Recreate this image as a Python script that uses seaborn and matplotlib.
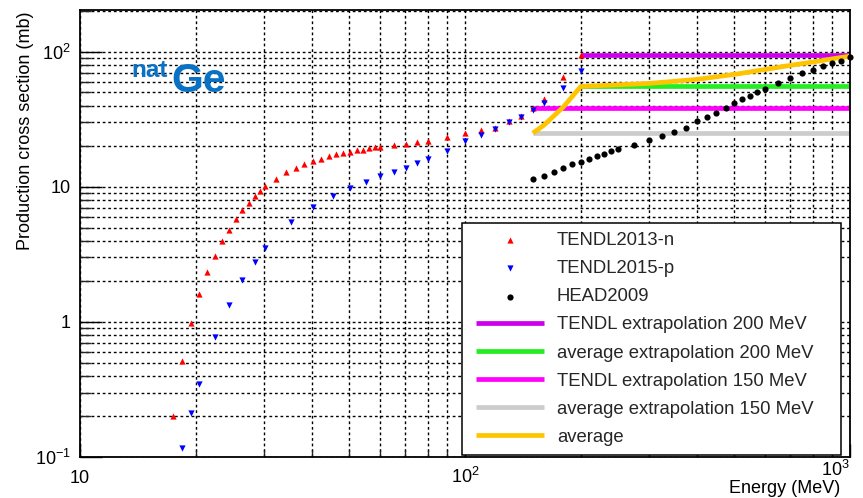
import numpy as np
import matplotlib
matplotlib.use("Agg")
import matplotlib.pyplot as plt
import matplotlib.ticker as mticker
import matplotlib.transforms as mtransforms
from matplotlib.lines import Line2D
from matplotlib.collections import PathCollection
from matplotlib.legend_handler import HandlerLine2D, HandlerPathCollection
import seaborn as sns

# ---- production cross sections (mb) vs energy (MeV) ----
tendl2013_n_E = [17.4, 18.4, 19.4, 20.4, 21.4, 22.4, 23.4, 24.4, 25.4, 26.4, 27.4, 28.4,
                 29.4, 30.3, 32.3, 34.3, 36.3, 38.2, 40.2, 42.3, 44.3, 46.3, 48.3, 50.2,
                 52.3, 54.2, 56.2, 58.3, 60.1, 65.3, 70.2, 75, 80, 90, 100, 110, 120,
                 130, 140, 150, 160, 180, 200]
tendl2013_n_xs = [0.20, 0.51, 0.98, 1.6, 2.33, 3.1, 3.98, 4.83, 5.77, 6.69, 7.61, 8.49,
                  9.29, 10.2, 11.5, 12.9, 13.9, 14.8, 15.6, 16.2, 16.8, 17.4, 17.8, 18.2,
                  18.6, 18.9, 19.25, 19.6, 19.8, 20.5, 20.8, 21.5, 21.9, 23.4, 25.1, 26.3,
                  27.5, 30.6, 33.6, 38.5, 44.4, 64.6, 94.5]

tendl2015_p_E = [18.4, 19.4, 20.4, 22.4, 24.4, 26.4, 28.4, 30.3, 35.3, 40.2, 45.3, 50.2,
                 55.3, 60.1, 65.3, 70.2, 75, 80, 90, 100, 110, 120, 130, 140, 150, 160,
                 180, 200]
tendl2015_p_xs = [0.117, 0.212, 0.35, 0.774, 1.33, 2.03, 2.77, 3.53, 5.45, 7.11, 8.63,
                  9.78, 10.96, 12.0, 12.9, 13.9, 15.0, 16.0, 18.5, 22.0, 24.2, 26.6, 30.0,
                  33.0, 37.0, 41.9, 54.1, 72.3]

head2009_E = [150, 160, 170, 180, 190, 200, 210, 220, 230, 240, 250, 275, 300, 325, 350,
              375, 400, 425, 450, 475, 500, 525, 550, 575, 600, 650, 700, 750, 800, 850,
              900, 950, 1000]
head2009_xs = [11.35, 12.06, 12.85, 13.8, 14.65, 15.3, 16.1, 16.8, 17.6, 18.3, 19.0, 20.4,
               22.1, 23.9, 25.7, 27.5, 30.5, 32.7, 35.3, 38.1, 41.5, 44.4, 47.2, 50.6,
               53.2, 58.9, 64.2, 69.2, 73.6, 78.4, 82.9, 85.8, 91.3]

tendl_extrap200_E = [200, 1000]
tendl_extrap200_xs = [94.5, 94.5]
avg_extrap200_E = [200, 1000]
avg_extrap200_xs = [55.5, 55.5]
tendl_extrap150_E = [150, 1000]
tendl_extrap150_xs = [38.7, 38.7]
avg_extrap150_E = [150, 1000]
avg_extrap150_xs = [25.0, 25.0]
average_E = [150, 160, 180, 200, 250, 300, 400, 500, 600, 700, 800, 900, 1000]
average_xs = [25.0, 28.5, 39.0, 55.5, 57.0, 58.3, 62.5, 68.0, 73.9, 79.4, 84.0, 88.7, 92.9]

x_ticks = [10, 100, 1000]
x_ticklabels = ["10", "$10^{2}$", ""]
y_ticks = [0.1, 1, 10, 100]
y_ticklabels = ["$10^{-1}$", "1", "10", "$10^{2}$"]

# ---- style ----
sns.set_theme(style="white")
plt.rcParams["font.family"] = ["Liberation Sans", "DejaVu Sans"]
plt.rcParams["mathtext.default"] = "regular"

W, H = 863, 498
fig = plt.figure(figsize=(W / 100, H / 100), dpi=100)
fig.patch.set_facecolor("white")
ax = fig.add_axes([80 / W, 1 - 457 / H, 770 / W, 447 / H])
ax.set_facecolor("white")

# ---- lines ----
line_specs = [
    (tendl_extrap200_E, tendl_extrap200_xs, "#cc00ee", "TENDL extrapolation 200 MeV"),
    (avg_extrap200_E, avg_extrap200_xs, "#22ee22", "average extrapolation 200 MeV"),
    (tendl_extrap150_E, tendl_extrap150_xs, "#ff00ff", "TENDL extrapolation 150 MeV"),
    (avg_extrap150_E, avg_extrap150_xs, "#cccccc", "average extrapolation 150 MeV"),
    (average_E, average_xs, "#ffc400", "average"),
]
for ex, ey, col, lab in line_specs:
    sns.lineplot(x=ex, y=ey, color=col, linewidth=3.4, label=lab, ax=ax, zorder=2,
                 solid_capstyle="butt")

# ---- points ----
sns.scatterplot(x=tendl2013_n_E, y=tendl2013_n_xs, marker="^", color="#ff0000", s=20,
                linewidth=0, label="TENDL2013-n", ax=ax, zorder=3, clip_on=False)
sns.scatterplot(x=tendl2015_p_E, y=tendl2015_p_xs, marker="v", color="#0000ff", s=20,
                linewidth=0, label="TENDL2015-p", ax=ax, zorder=3, clip_on=False)
sns.scatterplot(x=head2009_E, y=head2009_xs, marker="o", color="black", s=20,
                linewidth=0, label="HEAD2009", ax=ax, zorder=3, clip_on=False)

# ---- axes ----
ax.set_xscale("log")
ax.set_yscale("log")
ax.set_xlim(10, 1000)
ax.set_ylim(0.1, 204)

ax.xaxis.set_major_locator(mticker.FixedLocator(x_ticks))
ax.xaxis.set_minor_locator(mticker.LogLocator(base=10, subs=np.arange(2, 10), numticks=20))
ax.xaxis.set_major_formatter(mticker.FixedFormatter(x_ticklabels))
ax.xaxis.set_minor_formatter(mticker.NullFormatter())
ax.yaxis.set_major_locator(mticker.FixedLocator(y_ticks))
ax.yaxis.set_minor_locator(mticker.LogLocator(base=10, subs=np.arange(2, 10), numticks=20))
ax.yaxis.set_major_formatter(mticker.FixedFormatter(y_ticklabels))
ax.yaxis.set_minor_formatter(mticker.NullFormatter())

ax.tick_params(axis="x", which="major", direction="in", length=9.5, width=1.0,
               pad=18.5, labelsize=13, colors="black", bottom=True)
ax.tick_params(axis="x", which="minor", direction="in", length=5, width=1.0, bottom=True)
ax.tick_params(axis="y", which="major", direction="in", length=15.5, width=1.0,
               pad=6.5, labelsize=13, colors="black", left=True)
ax.tick_params(axis="y", which="minor", direction="in", length=8, width=1.0, left=True)
for lab in ax.get_xticklabels():
    lab.set_verticalalignment("baseline")

ax.grid(True, which="both", color="black", linestyle=(0, (2.0, 2.0)), linewidth=1.0)
ax.set_axisbelow(True)
for sp in ax.spines.values():
    sp.set_color("black")
    sp.set_linewidth(1.3)

# last decade label sits flush with the right edge
trans = mtransforms.blended_transform_factory(ax.transData, ax.transAxes)
ax.text(1000, -0.042, "$10^{3}$", transform=trans, ha="right", va="baseline",
        fontsize=13, color="black")

ax.set_xlabel("Energy (MeV)", fontsize=13, color="black", ha="right", va="top")
ax.xaxis.set_label_coords((840 - 80) / 770, (457 - 480) / 447)
ax.set_ylabel("Production cross section (mb)", fontsize=13, color="black",
              ha="right", va="bottom")
ax.yaxis.set_label_coords((34 - 80) / 770, 1.0 - 1.0 / 447)

# ---- element tag ----
tag_color = "#0a72c4"
fig.text(131.5 / W, 1 - 76.7 / H, "nat", color=tag_color, fontsize=17.5,
         fontweight="bold", ha="left", va="baseline")
fig.text(171.0 / W, 1 - 92.5 / H, "Ge", color=tag_color, fontsize=29.5,
         fontweight="bold", ha="left", va="baseline")

# ---- legend ----
handles, labels = ax.get_legend_handles_labels()
order = ["TENDL2013-n", "TENDL2015-p", "HEAD2009", "TENDL extrapolation 200 MeV",
         "average extrapolation 200 MeV", "TENDL extrapolation 150 MeV",
         "average extrapolation 150 MeV", "average"]
hmap = dict(zip(labels, handles))
hpad = 0.27
leg = ax.legend([hmap[k] for k in order], order, loc="upper left",
                bbox_to_anchor=(462 / W, 1 - 223 / H, (841 - 462) / W, 0),
                bbox_transform=fig.transFigure, mode="expand",
                frameon=True, fancybox=False, edgecolor="black", framealpha=1,
                fontsize=13.3, handlelength=3.65 + hpad, handletextpad=0.72,
                labelspacing=0.60, borderpad=0.5, borderaxespad=0, scatterpoints=1,
                handler_map={Line2D: HandlerLine2D(xpad=hpad),
                             PathCollection: HandlerPathCollection(xpad=hpad)})
leg.get_frame().set_linewidth(1.1)
leg.set_zorder(5)

fig.savefig("out.png", dpi=100, facecolor="white")
